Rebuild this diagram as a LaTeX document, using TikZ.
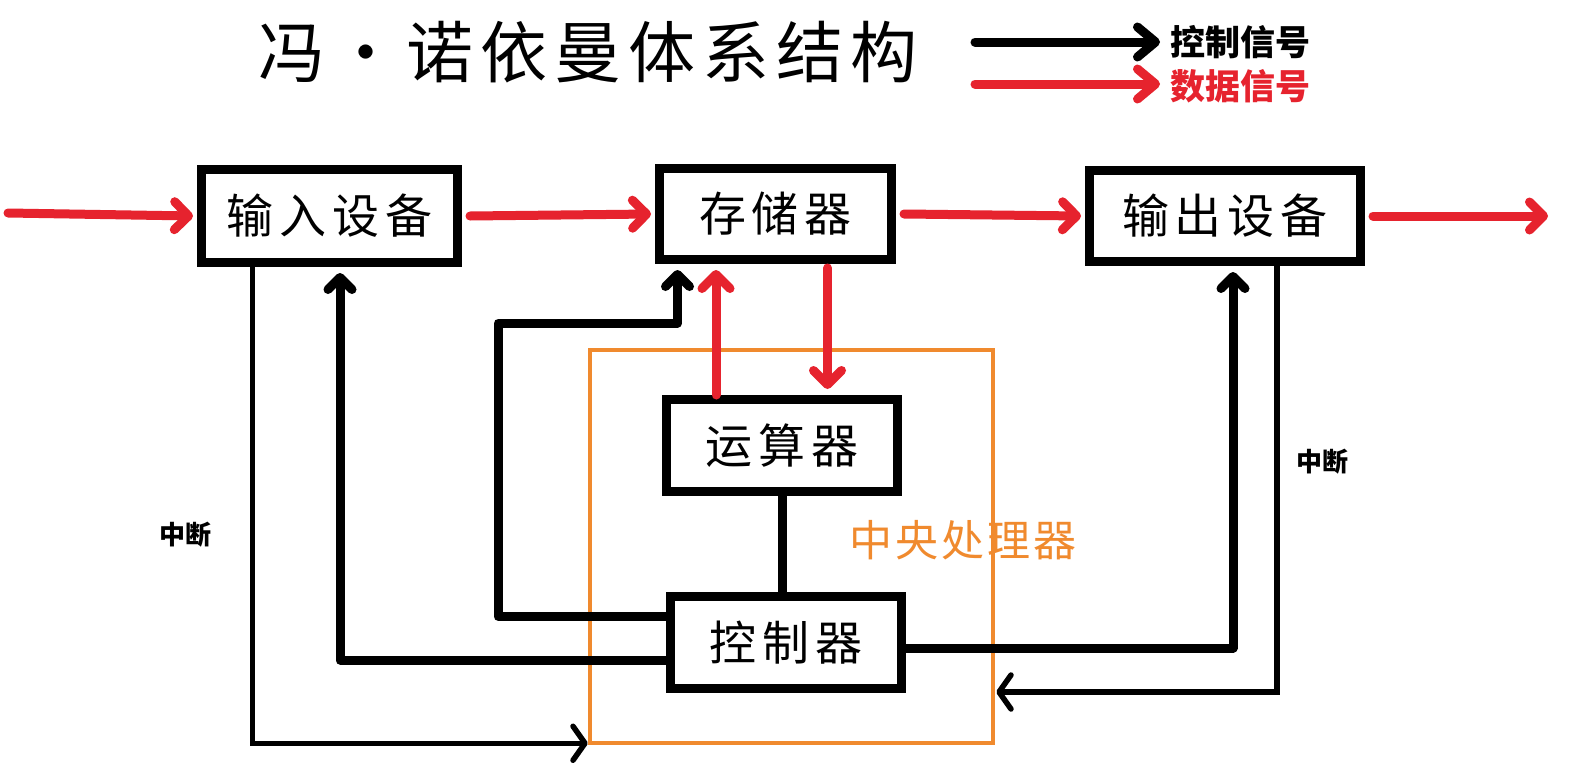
\documentclass[tikz,border=0pt]{standalone}
\usepackage{fontspec}
\usetikzlibrary{arrows.meta}
\newfontfamily\cjk{Noto Sans CJK SC}
\definecolor{dred}{HTML}{E6232E}
\definecolor{cpuorange}{HTML}{F08A2E}
\newcommand\gp[1]{\hspace{#1}}
\begin{document}
\begin{tikzpicture}[x=1pt,y=-1pt,
  box/.style={draw=black, line width=9pt, fill=white, inner sep=0pt,
    font=\cjk\fontsize{47}{50}\selectfont},
  data/.style={draw=dred, line width=9pt, line cap=round,
    -{Straight Barb[length=14pt,width=28pt,round]}},
  ctrl/.style={draw=black, line width=9pt, line cap=round, line join=round,
    -{Straight Barb[length=12pt,width=24pt,round]}},
  plain/.style={draw=black, line width=9pt},
  irq/.style={draw=black, line width=5.5pt, line join=miter,
    -{Straight Barb[length=12pt,width=34pt,round]}},
  legarrow/.style={line width=9pt, line cap=round,
    -{Straight Barb[length=18pt,width=30pt,round]}},
  cpubox/.style={draw=cpuorange, line width=4.5pt, inner sep=0pt},
  irqlabel/.style={font=\cjk\bfseries\fontsize{26}{29}\selectfont},
  legtext/.style={font=\cjk\bfseries\fontsize{35}{38}\selectfont, anchor=west, inner sep=0pt},
]
\useasboundingbox (0,0) rectangle (1569,763);
\fill[white] (0,0) rectangle (1569,763);

% title
\node[font=\cjk\fontsize{67}{72}\selectfont, inner sep=0pt] (title) at (588,52)
  {冯\gp{7pt}・\gp{7pt}诺\gp{7pt}依\gp{7pt}曼\gp{7pt}体\gp{7pt}系\gp{7pt}结\gp{7pt}构};

% legend
\coordinate (lc0) at (975,42);
\coordinate (lc1) at (1160,42);
\coordinate (ld0) at (975,84);
\coordinate (ld1) at (1160,84);
\draw[legarrow, draw=black] (lc0) -- (lc1);
\draw[legarrow, draw=dred] (ld0) -- (ld1);
\node[legtext] (lct) at (1170,42) {控制信号};
\node[legtext, text=dred] (ldt) at (1170,86) {数据信号};

% CPU frame
\node[cpubox, minimum width=403pt, minimum height=393pt] (cpu) at (791.5,546.5) {};
\node[font=\cjk\fontsize{43}{46}\selectfont, text=cpuorange, inner sep=0pt] (cpul) at (963,540)
  {中\gp{3pt}央\gp{3pt}处\gp{3pt}理\gp{3pt}器};

% boxes
\node[box, minimum width=256pt, minimum height=93pt] (in) at (329.5,216)
  {输\gp{6pt}入\gp{6pt}设\gp{6pt}备};
\node[box, minimum width=232pt, minimum height=91pt] (mem) at (775.5,214)
  {存\gp{6pt}储\gp{6pt}器};
\node[box, minimum width=271pt, minimum height=91pt] (out) at (1225,216)
  {输\gp{6pt}出\gp{6pt}设\gp{6pt}备};
\node[box, minimum width=231pt, minimum height=92pt] (alu) at (782,445.5)
  {运\gp{6pt}算\gp{6pt}器};
\node[box, minimum width=231pt, minimum height=92pt] (ctl) at (786,642.5)
  {控\gp{6pt}制\gp{6pt}器};

% data flow (red)
\coordinate (src) at (8,213);
\coordinate (snk) at (1548,216);
\draw[data] (src) -- ([xshift=-4pt]in.west);
\draw[data] ([xshift=8pt]in.east) -- ([xshift=-4pt]mem.west);
\draw[data] ([xshift=8pt]mem.east) -- ([xshift=-4pt]out.west);
\draw[data] ([xshift=8pt]out.east) -- (snk);
\draw[data] ([xshift=-66pt]alu.north) -- ([xshift=-66pt,yshift=-6pt]alu.north |- mem.south);
\draw[data] ([xshift=52pt,yshift=-4pt]mem.south) -- ([xshift=52pt,yshift=6pt]mem.south |- alu.north);

% control flow (black)
\coordinate (j1) at (498,323);
\draw[ctrl] ([yshift=26pt]ctl.west) -| (j1) -| ([xshift=-98pt,yshift=-6pt]mem.south);
\draw[ctrl] ([yshift=-17.5pt]ctl.west) -| ([xshift=10.5pt,yshift=-6pt]in.south);
\draw[ctrl] ([yshift=-5.5pt]ctl.east) -| ([xshift=8pt,yshift=-6pt]out.south);
\draw[plain] (alu.south) -- (alu.south |- ctl.north);

% interrupts
\draw[irq] ([xshift=-77pt]in.south) |- ([yshift=2pt]cpu.south west);
\draw[irq] ([xshift=52pt]out.south) |- ([xshift=1pt,yshift=-145.5pt]cpu.east);
\node[irqlabel] (irq1) at (185,535) {中断};
\node[irqlabel] (irq2) at (1322,462) {中断};
\end{tikzpicture}
\end{document}
